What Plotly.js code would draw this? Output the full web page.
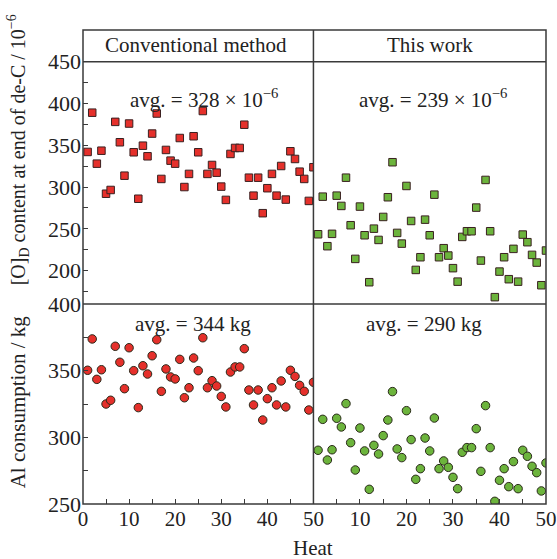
<!DOCTYPE html>
<html><head><meta charset="utf-8">
<script src="https://cdn.plot.ly/plotly-3.0.1.min.js"></script>
<style>html,body{margin:0;padding:0;background:#fff}</style>
</head><body><div id="chart" style="width:557px;height:559px"></div>
<script>
const heats = [1,2,3,4,5,6,7,8,9,10,11,12,13,14,15,16,17,18,19,20,21,22,23,24,25,26,27,28,29,30,31,32,33,34,35,36,37,38,39,40,41,42,43,44,45,46,47,48,49,50];
const oxygenConventional = [342,389,328,343.5,292,296.5,378,353.6,313.6,376,341.6,286,349.5,336.8,364,388,309.7,344.4,331.6,328,358.7,300,315.7,360.8,341.6,391,315.7,326.4,317.2,300.5,284.6,339.6,346.8,346.8,374.6,311.2,289.7,311.2,268.7,298.6,315.7,289.7,325.2,285,342.8,333.6,318.4,309.7,283.4,323.7];
const oxygenThisWork = [243.5,288.5,229.2,244,289.7,277.4,311.2,254.3,214,276.6,242.3,186.1,250.2,236.7,264.2,287.8,329.7,245.1,232.3,301.3,259.4,200.8,216,261,242.3,290.9,216,226.8,218,202.9,186.8,240.3,247.1,247.1,275.4,212,308.5,247.1,168.2,198.8,216,189.7,226,186.8,243.1,234,218.8,209.6,182.5,224];
const alConventional = [350.3,373.8,343.5,350.7,325,327.8,368.3,356.3,336.5,367.2,350,322.3,353.7,347.5,361.2,373.2,334.5,351.3,345.3,343.8,358.5,329.7,337.2,359.5,350,374.7,337.2,342.5,338.5,330.7,322.8,349,352.8,352.8,366.5,335.5,324.3,335.5,313,329,337.2,324.3,342.3,322.8,350.3,345.7,339,334.5,320.5,341.3];
const alThisWork = [290.3,313.5,283,290.7,314.3,307.8,325.3,296,275.5,307,289.8,261,294,287.5,301.3,313,334.3,291.3,284.8,320,298.3,268.5,276.5,299.5,289.8,314.5,276.5,282.3,277.5,270,261.5,288.8,292.3,292.3,306.5,274.5,323.8,292.3,252,267.8,276.5,263,281.8,261.5,290.3,285.8,278.3,273.5,259.8,280.8];
const panelHeaders = ["Conventional method", "This work"];
const avgLabels = ["avg. = 328 × 10<sup>−6</sup>", "avg. = 239 × 10<sup>−6</sup>", "avg. = 344 kg", "avg. = 290 kg"];
const yTitleTop = "[O]<sub>D</sub> content at end of de-C / 10<sup>−6</sup>";
const yTitleBottom = "Al consumption / kg";
const xTitle = "Heat";

const FONT = "Liberation Serif, Times New Roman, serif";
const FRAME = "#3a3a3a";
const RED = "#e5302b", GREEN = "#6cb43c";
const xd = 0.4977, yd = 0.4219, yt = 0.9331;

const sq = (c) => ({symbol:"square", size:7.5, color:c, line:{color:"#3a2020", width:1}});
const ci = (c) => ({symbol:"circle", size:8.5, color:c, line:{color:"#2a2a1a", width:1}});

const traces = [
  {x:heats, y:oxygenConventional, xaxis:"x3", yaxis:"y3", mode:"markers", marker:sq(RED), type:"scatter"},
  {x:heats, y:oxygenThisWork, xaxis:"x4", yaxis:"y4", mode:"markers", marker:sq(GREEN), type:"scatter"},
  {x:heats, y:alConventional, xaxis:"x", yaxis:"y", mode:"markers", marker:ci(RED), type:"scatter"},
  {x:heats, y:alThisWork, xaxis:"x2", yaxis:"y2", mode:"markers", marker:ci(GREEN), type:"scatter"}
];

const xTickFont = {family:FONT, size:21, color:"#222"};
const yTickFont = {family:FONT, size:22, color:"#222"};
const baseAx = {showgrid:false, zeroline:false, showline:false, ticks:"inside", ticklen:5, tickwidth:1, tickcolor:FRAME, fixedrange:true};
const minorT = (d) => ({ticks:"inside", ticklen:5, tickwidth:1, tickcolor:FRAME, tickmode:"linear", tick0:0, dtick:d});
const noTicks = {showgrid:false, zeroline:false, showline:false, ticks:"", showticklabels:false};

const px2x = (p) => (p - 82.7) / 463.3;
const px2y = (p) => (504 - p) / 474;
const ann = (text, px, py, size, extra) => Object.assign({text:text, xref:"paper", yref:"paper", x:px2x(px), y:px2y(py), showarrow:false, xanchor:"center", yanchor:"middle", font:{family:FONT, size:size, color:"#222"}}, extra || {});

const layout = {
  width:557, height:559,
  margin:{l:82.7, r:11, t:30, b:55},
  paper_bgcolor:"#fff", plot_bgcolor:"rgba(0,0,0,0)",
  showlegend:false,
  font:{family:FONT, size:20, color:"#222"},
  xaxis: Object.assign({}, baseAx, {tickfont:xTickFont, domain:[0,xd], anchor:"y", range:[0,50], tickmode:"linear", tick0:0, dtick:10, minor:minorT(5)}),
  yaxis: Object.assign({}, baseAx, {tickfont:yTickFont, ticklabelstandoff:1, domain:[0,yd], anchor:"x", range:[250,400], tickmode:"linear", tick0:0, dtick:50, minor:minorT(25)}),
  xaxis2: Object.assign({}, baseAx, {tickfont:xTickFont, domain:[xd,1], anchor:"y2", range:[0,50], tickmode:"array", tickvals:[10,20,30,40,50], minor:minorT(5)}),
  yaxis2: Object.assign({}, noTicks, {domain:[0,yd], anchor:"x2", range:[250,400]}),
  xaxis3: Object.assign({}, noTicks, {domain:[0,xd], anchor:"y3", range:[0,50]}),
  yaxis3: Object.assign({}, baseAx, {tickfont:yTickFont, ticklabelstandoff:1, domain:[yd,yt], anchor:"x3", range:[160,450], tickmode:"linear", tick0:0, dtick:50, minor:minorT(25)}),
  xaxis4: Object.assign({}, noTicks, {domain:[xd,1], anchor:"y4", range:[0,50]}),
  yaxis4: Object.assign({}, noTicks, {domain:[yd,yt], anchor:"x4", range:[160,450]}),
  shapes:[
    {type:"rect", xref:"paper", yref:"paper", x0:0, x1:1, y0:0, y1:1, line:{color:FRAME, width:1.5}},
    {type:"line", xref:"paper", yref:"paper", x0:xd, x1:xd, y0:0, y1:1, line:{color:FRAME, width:1.5}},
    {type:"line", xref:"paper", yref:"paper", x0:0, x1:1, y0:yd, y1:yd, line:{color:FRAME, width:1.5}},
    {type:"line", xref:"paper", yref:"paper", x0:0, x1:1, y0:yt, y1:yt, line:{color:FRAME, width:1.5}}
  ],
  annotations:[
    ann(panelHeaders[0], 196, 45, 21),
    ann(panelHeaders[1], 430, 45, 21),
    ann(avgLabels[0], 203.5, 98, 21),
    ann(avgLabels[1], 433, 98, 21),
    ann(avgLabels[2], 192.5, 324, 21),
    ann(avgLabels[3], 423.5, 324, 21),
    ann(yTitleTop, 18, 150, 20, {textangle:-90}),
    ann(yTitleBottom, 18, 402, 21, {textangle:-90}),
    ann(xTitle, 313, 548, 21)
  ]
};

Plotly.newPlot("chart", traces, layout, {staticPlot:true, displayModeBar:false});
</script>
</body></html>
